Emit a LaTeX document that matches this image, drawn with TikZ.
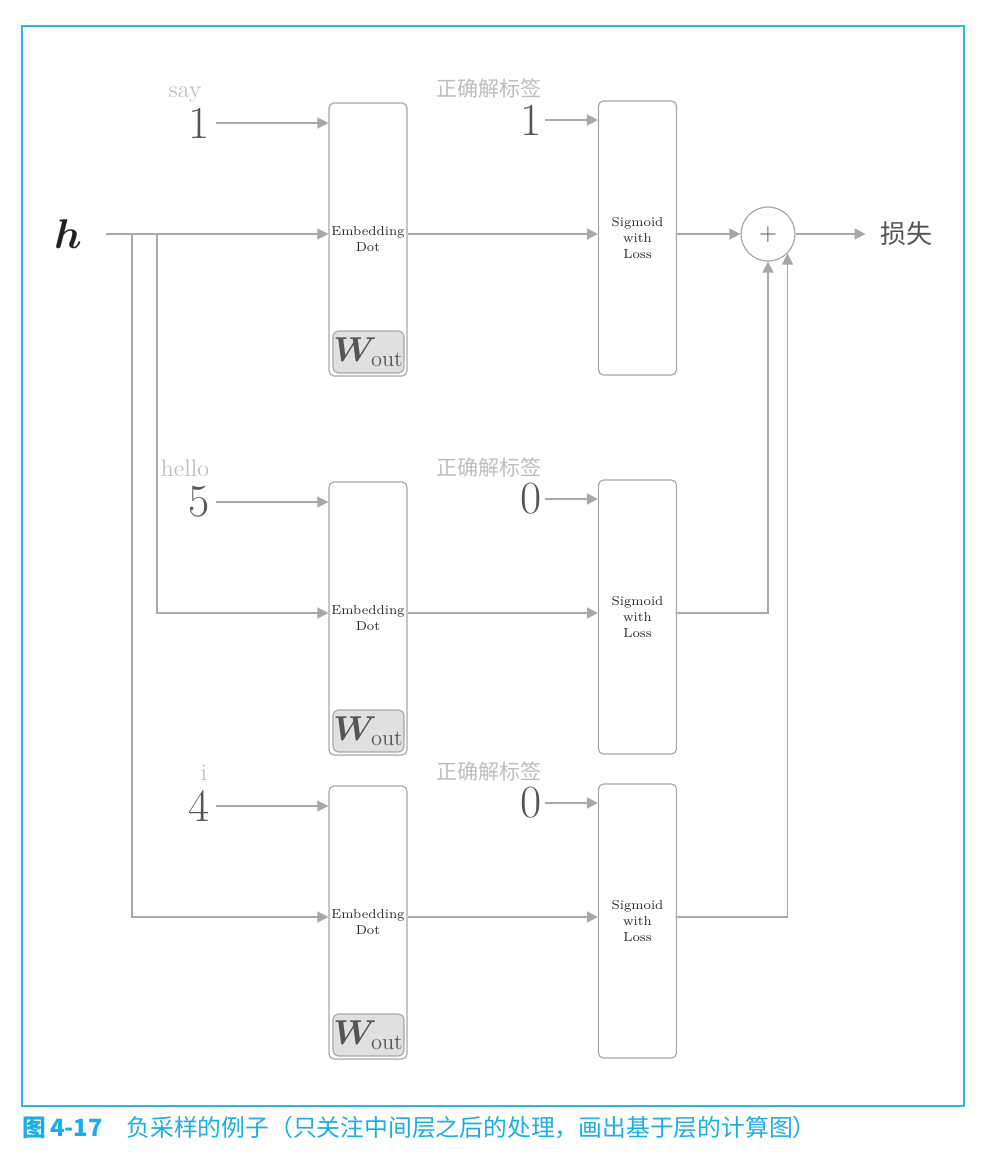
\documentclass[tikz,border=0pt]{standalone}
\usepackage{amsmath}
\usepackage{bm}
\usepackage{fontspec}
\newfontfamily\cjk{Noto Sans CJK SC}
\usetikzlibrary{arrows.meta,positioning}
\definecolor{linegray}{HTML}{A8A8A8}
\definecolor{lblgray}{HTML}{BDBDBD}
\definecolor{numgray}{HTML}{555555}
\definecolor{wfill}{HTML}{E0E0E0}
\definecolor{framecyan}{HTML}{29B8E8}
\definecolor{capcyan}{HTML}{1AAEE5}

\begin{document}
\begin{tikzpicture}[x=0.5pt,y=-0.5pt,
    line/.style={draw=linegray,line width=0.75pt},
    arr/.style={line,-{Triangle[length=5.5pt,width=5.5pt]}},
    layer/.style={draw=linegray,line width=0.6pt,rounded corners=2.5pt,minimum width=39pt,
        inner xsep=0pt,align=center,text=black!85,font=\fontsize{6.5}{8}\selectfont},
    wbox/.style={draw=linegray,fill=wfill,line width=0.6pt,rounded corners=3pt,inner sep=0pt,
        minimum width=35.5pt,minimum height=21pt,text=numgray,font=\fontsize{16}{16}\selectfont},
    num/.style={text=numgray,inner sep=3pt,font=\fontsize{23}{23}\selectfont},
    word/.style={text=lblgray,inner sep=0pt,anchor=base,font=\fontsize{12}{12}\selectfont},
    truth/.style={text=lblgray,inner sep=0pt,font=\cjk\fontsize{10.5}{10.5}\selectfont}]
\useasboundingbox (0,0) rectangle (988,1158);
\draw[framecyan,line width=0.6pt] (22,26) rectangle (964,1106);

\node[text=black!87,inner xsep=12pt,font=\fontsize{22}{22}\selectfont] (h) at (68,234) {$\bm{h}$};
\node[circle,draw=linegray,line width=0.6pt,minimum size=27pt,inner sep=0pt,text=black!70,
    font=\fontsize{12}{12}\selectfont] (plus) at (768,234) {$+$};
\node[text=numgray,inner sep=7pt,font=\cjk\fontsize{13}{13}\selectfont] (loss) at (906,234) {损失};

% one row per sample: target word, then the two layers
\foreach \r/\Y/\w/\wx/\n/\t/\bx in {1/0/say/185/1/1/107, 2/379/hello/185/5/0/157, 3/683/i/204/4/0/132}{
    \coordinate (in\r) at (\bx,234+\Y);
    \node[layer,minimum height=136.5pt] (emb\r) at (368,239.5+\Y) {Embedding\\Dot};
    \node[wbox] (w\r) at (368.5,352+\Y) {$\bm{W}_{\text{out}}$};
    \node[layer,minimum height=137pt] (sig\r) at (637.5,238+\Y) {Sigmoid\\with\\Loss};
    \node[num] (num\r) at (199,123+\Y) {\n};
    \node[word] (word\r) at (\wx,97+\Y) {\w};
    \node[num,inner sep=1.5pt] (lab\r) at (531,120+\Y) {\t};
    \node[truth] (ttl\r) at (489,88+\Y) {正确解标签};
    \draw[arr] (num\r) -- (emb\r.west |- num\r);
    \draw[arr] (lab\r) -- (sig\r.west |- lab\r);
    \draw[arr] (in1 -| in\r) |- (emb\r.west |- in\r);
    \draw[arr] (emb\r.east |- in\r) -- (sig\r.west |- in\r);
}
\draw[line] (h.east) -- (in1);
\draw[arr] (sig1.east |- in1) -- (plus.west);
\draw[arr] (sig2.east |- in2) -| (plus.south);
\draw[arr] (sig3.east |- in3) -| (plus.-45);
\draw[arr] (plus) -- (loss);

\node[anchor=west,inner sep=0pt,text=capcyan,font=\cjk\fontsize{11.9}{11.9}\selectfont] (cap) at (22,1128)
    {{\bfseries 图\,4-17}\quad 负采样的例子（只关注中间层之后的处理，画出基于层的计算图）};
\end{tikzpicture}
\end{document}
